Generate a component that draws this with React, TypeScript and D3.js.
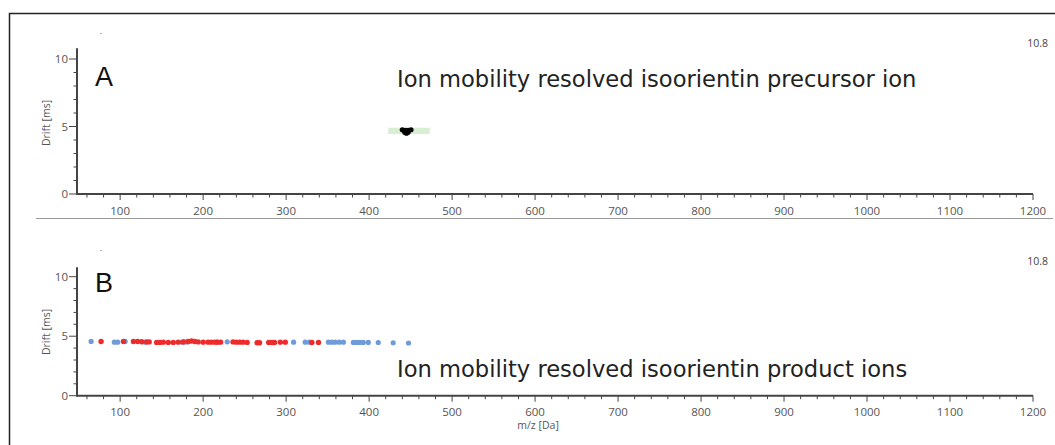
import { useEffect, useRef } from "react";
import * as d3 from "d3";

const W = 1055;
const H = 445;

// m/z axis
const MZ_MIN = 48;
const MZ_MAX = 1200;
const DRIFT_MAX = 10.8;
const xMajorTicks = [100, 200, 300, 400, 500, 600, 700, 800, 900, 1000, 1100, 1200];
const yMajorTicks = [0, 5, 10];

// panel A: precursor selection window and the ion blob
const precursorWindowMz = [423, 473];
const precursorWindowDrift = [4.44, 4.91];
const precursorMz = [440, 443.5, 447, 450.5, 443, 447, 445];
const precursorDrift = [4.76, 4.72, 4.72, 4.76, 4.58, 4.58, 4.5];

// panel B: product ions (blue = all, red = highlighted)
const blueMz = [65, 93, 97, 106, 130, 175, 178, 181, 217, 229, 309, 323, 328, 351, 355, 359, 364, 369, 381, 385, 389, 393, 399, 411, 429, 447.5];
const blueDrift = [4.56, 4.5, 4.5, 4.56, 4.5, 4.5, 4.52, 4.52, 4.5, 4.53, 4.5, 4.5, 4.5, 4.5, 4.5, 4.5, 4.5, 4.5, 4.48, 4.48, 4.48, 4.48, 4.48, 4.47, 4.45, 4.43];
const redMz = [77, 104, 116, 121, 126, 132, 135, 144, 148, 152, 158, 164, 170, 176, 182, 186, 190, 194, 200, 206, 210, 214, 217, 221, 236, 240, 244, 248, 253, 265, 268, 279, 283, 286, 293, 299, 331, 339];
const redDrift = [4.56, 4.56, 4.56, 4.56, 4.54, 4.52, 4.52, 4.48, 4.48, 4.5, 4.48, 4.48, 4.5, 4.52, 4.56, 4.6, 4.56, 4.52, 4.5, 4.5, 4.5, 4.5, 4.5, 4.5, 4.52, 4.5, 4.5, 4.5, 4.48, 4.45, 4.45, 4.47, 4.47, 4.47, 4.5, 4.5, 4.48, 4.48];

const panels = [
  { letter: "A", title: "Ion mobility resolved isoorientin precursor ion", y0: 194, y1: 48.2, titleY: 86.5, letterY: 85.5, maxY: 47, xLabelY: 215, yLabelY: 123, dotY: 33 },
  { letter: "B", title: "Ion mobility resolved isoorientin product ions", y0: 395.7, y1: 267.2, titleY: 376.5, letterY: 292, maxY: 265, xLabelY: 416, yLabelY: 332, dotY: 250 },
];

const AXIS = "#444";
const TICKFONT = "'Open Sans', 'Noto Sans', sans-serif";

export default function App() {
  const svgRef = useRef<SVGSVGElement>(null);

  useEffect(() => {
    if (!svgRef.current) return;
    const svg = d3.select(svgRef.current);
    svg.selectAll("*").remove();

    svg.append("rect").attr("width", W).attr("height", H).attr("fill", "#fff");

    // outer frame (runs off the right and bottom edge)
    svg
      .append("rect")
      .attr("x", 9.5)
      .attr("y", 13.5)
      .attr("width", W + 20)
      .attr("height", H + 20)
      .attr("fill", "none")
      .attr("stroke", "#222")
      .attr("stroke-width", 1.5);

    // divider between panels
    svg
      .append("line")
      .attr("x1", 36)
      .attr("x2", 1053)
      .attr("y1", 218.5)
      .attr("y2", 218.5)
      .attr("stroke", "#9a9a9a")
      .attr("stroke-width", 1);

    const x = d3.scaleLinear().domain([MZ_MIN, MZ_MAX]).range([77, 1033]);

    panels.forEach((p, i) => {
      const y = d3.scaleLinear().domain([0, DRIFT_MAX]).range([p.y0, p.y1]);
      const g = svg.append("g");

      // minor ticks
      const xMinor = d3.range(60, MZ_MAX + 1, 20).filter((v) => v % 100 !== 0);
      g.selectAll(".xminor")
        .data(xMinor)
        .join("line")
        .attr("x1", (d) => x(d))
        .attr("x2", (d) => x(d))
        .attr("y1", y(0))
        .attr("y2", y(0) + 3.5)
        .attr("stroke", AXIS)
        .attr("stroke-width", 1);
      g.selectAll(".xmajor")
        .data(xMajorTicks)
        .join("line")
        .attr("x1", (d) => x(d))
        .attr("x2", (d) => x(d))
        .attr("y1", y(0))
        .attr("y2", y(0) + 6)
        .attr("stroke", AXIS)
        .attr("stroke-width", 1);
      const yMinor = d3.range(1, 11).filter((v) => v % 5 !== 0);
      g.selectAll(".yminor")
        .data(yMinor)
        .join("line")
        .attr("x1", x(MZ_MIN) - 3.5)
        .attr("x2", x(MZ_MIN))
        .attr("y1", (d) => y(d))
        .attr("y2", (d) => y(d))
        .attr("stroke", AXIS)
        .attr("stroke-width", 1);
      g.selectAll(".ymajor")
        .data(yMajorTicks)
        .join("line")
        .attr("x1", x(MZ_MIN) - 8)
        .attr("x2", x(MZ_MIN))
        .attr("y1", (d) => y(d))
        .attr("y2", (d) => y(d))
        .attr("stroke", AXIS)
        .attr("stroke-width", 1);

      // axis lines
      g.append("line")
        .attr("x1", x(MZ_MIN))
        .attr("x2", x(MZ_MAX))
        .attr("y1", y(0))
        .attr("y2", y(0))
        .attr("stroke", AXIS)
        .attr("stroke-width", 2);
      g.append("line")
        .attr("x1", x(MZ_MIN))
        .attr("x2", x(MZ_MIN))
        .attr("y1", y(0) + 1)
        .attr("y2", y(DRIFT_MAX))
        .attr("stroke", AXIS)
        .attr("stroke-width", 2);

      // tick labels
      g.selectAll(".xl")
        .data(xMajorTicks)
        .join("text")
        .attr("x", (d) => x(d))
        .attr("y", p.xLabelY)
        .attr("text-anchor", "middle")
        .attr("font-family", TICKFONT)
        .attr("font-size", 11.5)
        .attr("fill", "#555")
        .text((d) => d);
      g.selectAll(".yl")
        .data(yMajorTicks)
        .join("text")
        .attr("x", x(MZ_MIN) - 9)
        .attr("y", (d) => y(d) + 4)
        .attr("text-anchor", "end")
        .attr("font-family", TICKFONT)
        .attr("font-size", 11.5)
        .attr("fill", "#555")
        .text((d) => d);

      g.append("text")
        .attr("transform", `translate(50,${p.yLabelY}) rotate(-90)`)
        .attr("text-anchor", "middle")
        .attr("font-family", TICKFONT)
        .attr("font-size", 10.5)
        .attr("fill", "#555")
        .text("Drift [ms]");

      g.append("text")
        .attr("x", 1048)
        .attr("y", p.maxY)
        .attr("text-anchor", "end")
        .attr("font-family", TICKFONT)
        .attr("font-size", 10.5)
        .attr("fill", "#444")
        .text(String(DRIFT_MAX));

      g.append("rect")
        .attr("x", 100.5)
        .attr("y", p.dotY)
        .attr("width", 1)
        .attr("height", 1)
        .attr("fill", "#666");

      g.append("text")
        .attr("x", 95)
        .attr("y", p.letterY)
        .attr("font-family", "'Liberation Sans', Arial, sans-serif")
        .attr("font-size", 27)
        .attr("fill", "#111")
        .text(p.letter);

      g.append("text")
        .attr("x", 397)
        .attr("y", p.titleY)
        .attr("font-family", "'DejaVu Sans', Verdana, sans-serif")
        .attr("font-size", 22.6)
        .attr("fill", "#222")
        .text(p.title);

      if (i === 0) {
        g.append("rect")
          .attr("x", x(precursorWindowMz[0]))
          .attr("y", y(precursorWindowDrift[1]))
          .attr("width", x(precursorWindowMz[1]) - x(precursorWindowMz[0]))
          .attr("height", y(precursorWindowDrift[0]) - y(precursorWindowDrift[1]))
          .attr("fill", "#d9efd3");
        g.selectAll(".pre")
          .data(precursorMz)
          .join("circle")
          .attr("cx", (d) => x(d))
          .attr("cy", (_, k) => y(precursorDrift[k]))
          .attr("r", 2.6)
          .attr("fill", "#000");
      } else {
        g.selectAll(".blue")
          .data(blueMz)
          .join("circle")
          .attr("cx", (d) => x(d))
          .attr("cy", (_, k) => y(blueDrift[k]))
          .attr("r", 2.6)
          .attr("fill", "#6f9bd8");
        g.selectAll(".red")
          .data(redMz)
          .join("circle")
          .attr("cx", (d) => x(d))
          .attr("cy", (_, k) => y(redDrift[k]))
          .attr("r", 2.7)
          .attr("fill", "#ee2a2a");

        g.append("text")
          .attr("x", x(600) + 3)
          .attr("y", 429)
          .attr("text-anchor", "middle")
          .attr("font-family", TICKFONT)
          .attr("font-size", 10.5)
          .attr("fill", "#555")
          .text("m/z [Da]");
      }
    });
  }, []);

  return (
    <svg
      ref={svgRef}
      width={W}
      height={H}
      viewBox={`0 0 ${W} ${H}`}
      style={{ position: "absolute", left: 0, top: 0, display: "block" }}
    />
  );
}
